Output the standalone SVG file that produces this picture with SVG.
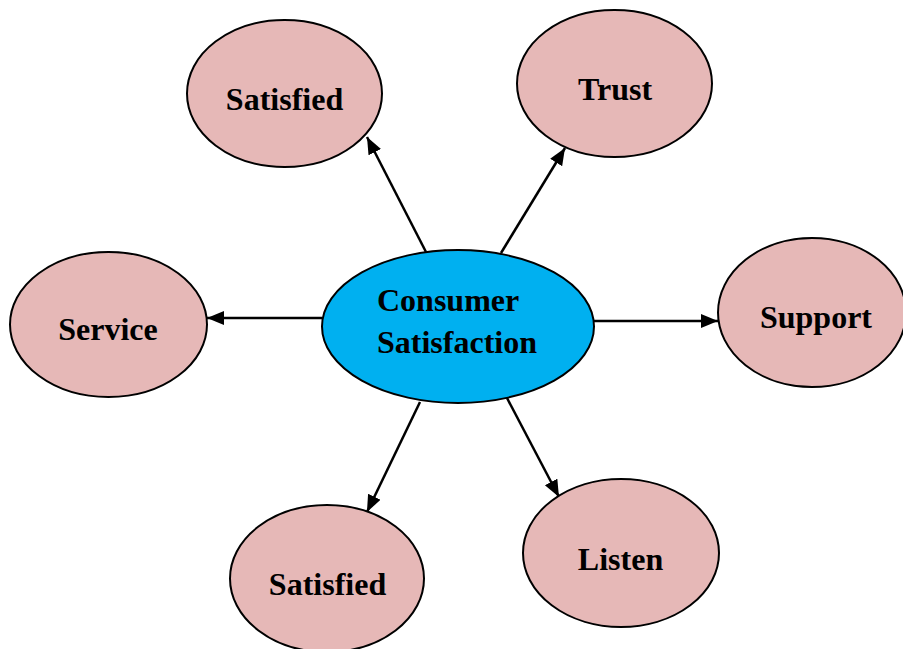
<svg xmlns="http://www.w3.org/2000/svg" width="903" height="649" viewBox="0 0 903 649">
<style>
.node{fill:#e6b8b7;stroke:#000;stroke-width:2}
.center{fill:#00b0f0;stroke:#000;stroke-width:2}
.lbl{font-family:"Liberation Serif","Times New Roman",serif;font-weight:bold;font-size:32px;fill:#000;text-anchor:middle}
.lblc{font-family:"Liberation Serif","Times New Roman",serif;font-weight:bold;font-size:32px;fill:#000}
.edge{stroke:#000;stroke-width:2.5;fill:none;marker-end:url(#arr)}
</style>
<defs>
<marker id="arr" markerUnits="userSpaceOnUse" markerWidth="20" markerHeight="16" refX="17" refY="7" orient="auto">
<path d="M0,0 L17,7 L0,14 z" fill="#000"/>
</marker>
</defs>
<rect width="903" height="649" fill="#fff"/>
<g id="connectors">
<line class="edge" x1="426" y1="252" x2="367" y2="137"/>
<line class="edge" x1="501" y1="253" x2="565" y2="148"/>
<line class="edge" x1="322" y1="318" x2="207" y2="318"/>
<line class="edge" x1="594" y1="321" x2="718" y2="321"/>
<line class="edge" x1="420" y1="402" x2="367" y2="512"/>
<line class="edge" x1="507" y1="398" x2="559" y2="497"/>
</g>
<g id="center">
<ellipse class="center" cx="458" cy="326.5" rx="136" ry="76.5"/>
<text class="lblc" x="377" y="311">Consumer</text>
<text class="lblc" x="377" y="353">Satisfaction</text>
</g>
<g id="satisfied-top">
<ellipse class="node" cx="284.5" cy="93.5" rx="97.5" ry="73.5"/>
<text class="lbl" x="284.5" y="110">Satisfied</text>
</g>
<g id="trust">
<ellipse class="node" cx="614.5" cy="83.5" rx="97.5" ry="73.5"/>
<text class="lbl" x="615" y="100">Trust</text>
</g>
<g id="service">
<ellipse class="node" cx="108.5" cy="324.5" rx="98.5" ry="72.5"/>
<text class="lbl" x="108" y="340">Service</text>
</g>
<g id="support">
<ellipse class="node" cx="812" cy="312.5" rx="94" ry="74.5"/>
<text class="lbl" x="816" y="328">Support</text>
</g>
<g id="satisfied-bottom">
<ellipse class="node" cx="327" cy="578.5" rx="97" ry="73.5"/>
<text class="lbl" x="327.5" y="595">Satisfied</text>
</g>
<g id="listen">
<ellipse class="node" cx="621" cy="553" rx="98" ry="74"/>
<text class="lbl" x="620.5" y="570">Listen</text>
</g>
</svg>
